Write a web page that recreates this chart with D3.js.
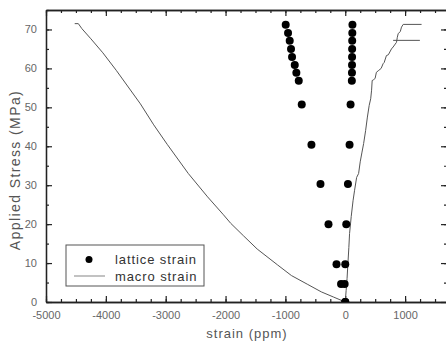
<!DOCTYPE html>
<html>
<head>
<meta charset="utf-8">
<script src="https://cdn.jsdelivr.net/npm/d3@7"></script>
<style>
  body { margin: 0; background: #fff; }
  svg text { font-family: "Liberation Sans", Arial, sans-serif; }
</style>
</head>
<body>
<div id="chart"></div>
<script>
// lattice strain (diffraction) at each applied stress level
const latticeStress = [71.2, 69.1, 67.1, 65.0, 62.9, 60.9, 58.9, 56.8, 50.7, 40.4, 30.3, 20, 9.7, 4.6, 0];
const latticeLeft = [-995, -956, -928, -906, -889, -844, -817, -777, -727, -565, -414, -280, -146, -70, 0];
const latticeRight = [120, 118, 116, 115, 114, 113, 112, 110, 89, 72, 45, 17, 0, -10, 0];

// macro strain (gauge) curves
const macroLeftStrain = [0, -200, -400, -626, -900, -1129, -1471, -1700, -1913, -2035, -2300, -2622, -2975, -3200, -3423, -3826, -4050, -4250, -4400, -4460, -4520];
const macroLeftStress = [0, 1.3, 2.6, 4.5, 6.8, 9.5, 13.6, 17, 20.2, 22.4, 27, 33, 40.5, 45.5, 50.9, 59.5, 64, 67.6, 70.2, 71.5, 71.5];
const macroRightStrain = [0, 15, 30, 45, 60, 72, 100, 130, 156, 190, 223, 250, 280, 307, 340, 370, 400, 425, 440, 450, 470, 500, 520, 560, 600, 632, 650, 688, 720, 772, 800, 856, 870, 884, 920, 940, 968, 1275];
const macroRightStress = [0, 3, 6, 10, 14, 17.6, 22, 26, 28.7, 32, 33, 36, 38.5, 40.7, 44, 47.5, 50.5, 52.2, 54.4, 56.9, 57, 57.5, 59, 59.5, 60, 61.2, 61.5, 63.3, 63.5, 65, 65.5, 66.7, 68, 68.9, 69.5, 70.6, 71.3, 71.3];
const macroHoldStrain = [800, 1247];
const macroHoldStress = [67.2, 67.2];

const xTicks = [-5000, -4000, -3000, -2000, -1000, 0, 1000];
const yTicks = [0, 10, 20, 30, 40, 50, 60, 70];

const W = 446, H = 346;
const mLeft = 46, mRight = 447, mTop = 10, mBottom = 302;

const svg = d3.select("#chart").append("svg")
  .attr("width", W)
  .attr("height", H);

const x = d3.scaleLinear().domain([-5000, 1700]).range([mLeft, mRight]);
const y = d3.scaleLinear().domain([0, 75]).range([mBottom, mTop]);

svg.append("clipPath").attr("id", "plot")
  .append("rect")
  .attr("x", mLeft).attr("y", mTop)
  .attr("width", mRight - mLeft).attr("height", mBottom - mTop);

const minorX = d3.range(-5000, 1701, 250);
const minorY = d3.range(0, 76, 5);

function styleAxis(g) {
  g.select(".domain").attr("stroke", "#222").attr("stroke-width", 1.3);
  g.selectAll(".tick line").attr("stroke", "#222").attr("stroke-width", 1.2);
  g.selectAll("text").attr("fill", "#666").style("font-size", "11px");
}

// bottom
svg.append("g").attr("transform", `translate(0,${mBottom})`)
  .call(d3.axisBottom(x).tickValues(minorX).tickSize(-3).tickFormat("").tickSizeOuter(0))
  .call(styleAxis);
svg.append("g").attr("transform", `translate(0,${mBottom})`)
  .call(d3.axisBottom(x).tickValues(xTicks).tickSize(-6).tickPadding(9).tickSizeOuter(0).tickFormat(d => String(d)))
  .call(styleAxis);

// top
svg.append("g").attr("transform", `translate(0,${mTop})`)
  .call(d3.axisTop(x).tickValues(minorX).tickSize(-3).tickFormat("").tickSizeOuter(0))
  .call(styleAxis);
svg.append("g").attr("transform", `translate(0,${mTop})`)
  .call(d3.axisTop(x).tickValues(xTicks).tickSize(-6).tickFormat("").tickSizeOuter(0))
  .call(styleAxis);

// left
svg.append("g").attr("transform", `translate(${mLeft},0)`)
  .call(d3.axisLeft(y).tickValues(minorY).tickSize(-3).tickFormat("").tickSizeOuter(0))
  .call(styleAxis);
svg.append("g").attr("transform", `translate(${mLeft},0)`)
  .call(d3.axisLeft(y).tickValues(yTicks).tickSize(-6).tickPadding(9).tickSizeOuter(0))
  .call(styleAxis);

// right
svg.append("g").attr("transform", `translate(${mRight},0)`)
  .call(d3.axisRight(y).tickValues(minorY).tickSize(-3).tickFormat("").tickSizeOuter(0))
  .call(styleAxis);
svg.append("g").attr("transform", `translate(${mRight},0)`)
  .call(d3.axisRight(y).tickValues(yTicks).tickSize(-6).tickFormat("").tickSizeOuter(0))
  .call(styleAxis);

// macro strain lines
const line = d3.line().x(d => x(d[0])).y(d => y(d[1]));
const plot = svg.append("g").attr("clip-path", "url(#plot)");
[
  [macroLeftStrain, macroLeftStress],
  [macroRightStrain, macroRightStress],
  [macroHoldStrain, macroHoldStress]
].forEach(([xs, ys]) => {
  plot.append("path")
    .datum(xs.map((v, i) => [v, ys[i]]))
    .attr("d", line)
    .attr("fill", "none")
    .attr("stroke", "#555")
    .attr("stroke-width", 1);
});

// lattice strain dots
const dots = latticeStress.flatMap((s, i) => [[latticeLeft[i], s], [latticeRight[i], s]]);
plot.selectAll("circle.lat")
  .data(dots)
  .enter()
  .append("circle")
  .attr("class", "lat")
  .attr("cx", d => x(d[0]))
  .attr("cy", d => y(d[1]))
  .attr("r", 4)
  .attr("fill", "#000");

// legend
const lg = svg.append("g");
lg.append("rect")
  .attr("x", 66).attr("y", 245).attr("width", 138).attr("height", 41)
  .attr("fill", "#fff").attr("stroke", "#555").attr("stroke-width", 1);
lg.append("circle").attr("cx", 89).attr("cy", 259.5).attr("r", 3.5).attr("fill", "#000");
lg.append("line").attr("x1", 74).attr("x2", 105).attr("y1", 276).attr("y2", 276)
  .attr("stroke", "#999").attr("stroke-width", 1.2);
lg.append("text").attr("x", 115).attr("y", 264).text("lattice strain")
  .attr("fill", "#333").style("font-size", "13px").style("letter-spacing", "0.9px");
lg.append("text").attr("x", 115).attr("y", 281).text("macro strain")
  .attr("fill", "#333").style("font-size", "13px").style("letter-spacing", "0.9px");

// axis titles
svg.append("text")
  .attr("x", 247).attr("y", 338)
  .attr("text-anchor", "middle")
  .attr("fill", "#555")
  .style("font-size", "13px")
  .style("letter-spacing", "1px")
  .text("strain (ppm)");
svg.append("text")
  .attr("transform", "translate(20,170) rotate(-90)")
  .attr("text-anchor", "middle")
  .attr("fill", "#555")
  .style("font-size", "14px")
  .style("letter-spacing", "1.4px")
  .text("Applied Stress (MPa)");
</script>
</body>
</html>
